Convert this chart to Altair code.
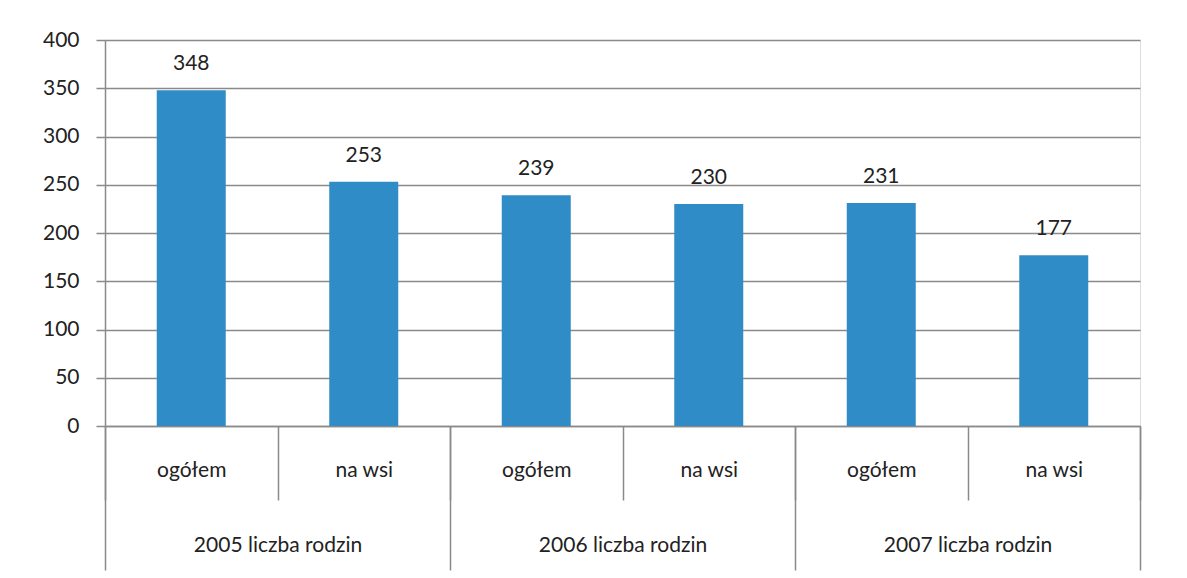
import altair as alt
import pandas as pd

groups = ["2005 liczba rodzin", "2006 liczba rodzin", "2007 liczba rodzin"]
subs = ["ogółem", "na wsi"]
values = [348, 253, 239, 230, 231, 177]
y_ticks = [0, 50, 100, 150, 200, 250, 300, 350, 400]

keys, grp_col, sub_col = [], [], []
for g in groups:
    for s in subs:
        keys.append(g + "|" + s)
        grp_col.append(g)
        sub_col.append(s)

df = pd.DataFrame({"key": keys, "group": grp_col, "sub": sub_col, "value": values})
dg = pd.DataFrame({"group": groups})

FONT = "Lato"
TXT = "#222222"
LINE = "#8a8a8a"

sub_scale = alt.Scale(paddingInner=0, paddingOuter=0)

x_sub = alt.X(
    "key:N",
    sort=keys,
    scale=sub_scale,
    axis=alt.Axis(
        title=None, orient="bottom", labelAngle=0,
        labelExpr="split(datum.label, '|')[1]",
        tickBand="extent", tickSize=74, tickColor=LINE, tickWidth=1.5,
        domainColor=LINE, domainWidth=1.5,
        labelPadding=-30, labelBaseline="middle",
        labelFont=FONT, labelFontSize=21, labelColor=TXT, labelFontWeight="normal",
    ),
)
y_val = alt.Y(
    "value:Q",
    scale=alt.Scale(domain=[0, 400]),
    axis=alt.Axis(
        title=None, values=y_ticks, tickSize=9, tickColor=LINE, tickWidth=1.5,
        labelPadding=17, labelFont=FONT, labelFontSize=21, labelColor=TXT,
        labelFontWeight="normal",
        domainColor=LINE, domainWidth=1.5,
        grid=True, gridColor=LINE, gridWidth=1.3,
    ),
)

bars = alt.Chart(df).mark_bar(color="#2f8cc6", width=alt.RelativeBandSize(0.4)).encode(
    x=x_sub, y=y_val
)
labels = alt.Chart(df).mark_text(
    baseline="bottom", dy=-16, font=FONT, fontSize=21, color=TXT
).encode(
    x=alt.X("key:N", sort=keys, scale=sub_scale, axis=None),
    y=y_val,
    text="value:Q",
)

grp = alt.Chart(dg).mark_point(opacity=0).encode(
    x=alt.X(
        "group:N",
        sort=groups,
        scale=alt.Scale(paddingInner=0, paddingOuter=0),
        axis=alt.Axis(
            title=None, orient="bottom", labelAngle=0, domain=False,
            tickBand="extent", tickSize=144, tickColor=LINE, tickWidth=1.5,
            labelPadding=-25, labelBaseline="middle",
            labelFont=FONT, labelFontSize=21, labelColor=TXT, labelFontWeight="normal",
        ),
    ),
    y=alt.value(0),
)

chart = (
    alt.layer(bars, labels, grp)
    .resolve_scale(x="independent")
    .properties(
        width=1035, height=386,
        autosize=alt.AutoSizeParams(type="none"),
        padding={"left": 97, "top": 32, "right": 30, "bottom": 150},
    )
    .configure_view(strokeWidth=0, stroke="transparent")
    .configure(background="white")
)

chart.save("out.html", embed_options={"renderer": "svg", "actions": False})
